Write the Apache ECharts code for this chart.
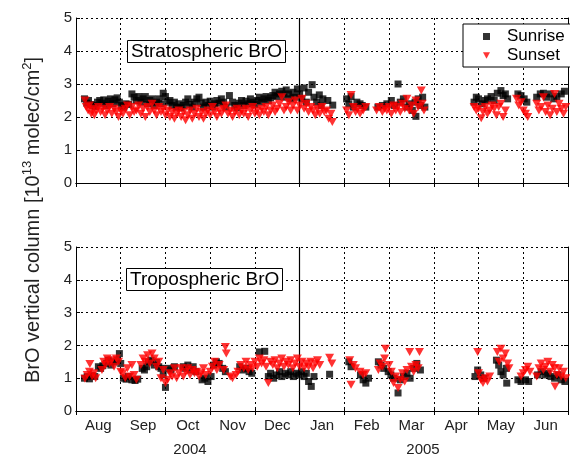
<!DOCTYPE html>
<html>
<head>
<meta charset="utf-8">
<script src="https://cdn.jsdelivr.net/npm/echarts@6/dist/echarts.min.js"></script>
<style>html,body{margin:0;padding:0;background:#fff;}#c{width:570px;height:457px;}</style>
</head>
<body>
<div id="c"></div>
<script>
// Month categories (x axis, Aug 2004 .. Jun 2005)
var months = ['Aug','Sep','Oct','Nov','Dec','Jan','Feb','Mar','Apr','May','Jun'];
var years = ['2004','2005'];
var yTicks = [0,1,2,3,4,5];
// x values are in month units: 0 = 1 Aug 2004, 5 = 1 Jan 2005, 11 = 1 Jul 2005
var stratSunrise = [[0.19,2.55],[0.24,2.42],[0.28,2.5],[0.33,2.38],[0.38,2.35],[0.43,2.32],[0.48,2.45],[0.53,2.5],[0.58,2.42],[0.62,2.52],[0.67,2.35],[0.72,2.48],[0.77,2.55],[0.82,2.4],[0.87,2.52],[0.92,2.58],[0.97,2.45],[1.02,2.35],[1.07,2.3],[1.12,2.4],[1.18,2.38],[1.25,2.7],[1.3,2.6],[1.35,2.5],[1.4,2.62],[1.45,2.45],[1.5,2.55],[1.55,2.62],[1.6,2.4],[1.65,2.5],[1.7,2.55],[1.75,2.35],[1.8,2.45],[1.85,2.55],[1.9,2.4],[1.95,2.72],[2.0,2.62],[2.05,2.45],[2.1,2.5],[2.15,2.35],[2.2,2.45],[2.25,2.3],[2.3,2.4],[2.35,2.28],[2.4,2.35],[2.45,2.45],[2.5,2.55],[2.55,2.38],[2.6,2.3],[2.65,2.45],[2.7,2.55],[2.75,2.6],[2.8,2.42],[2.85,2.3],[2.9,2.45],[2.95,2.35],[3.0,2.48],[3.05,2.3],[3.1,2.4],[3.15,2.5],[3.2,2.42],[3.25,2.55],[3.3,2.45],[3.35,2.3],[3.43,2.65],[3.5,2.45],[3.55,2.35],[3.6,2.28],[3.65,2.42],[3.7,2.5],[3.75,2.35],[3.8,2.48],[3.85,2.4],[3.9,2.55],[3.95,2.45],[4.0,2.38],[4.05,2.5],[4.1,2.6],[4.15,2.45],[4.2,2.55],[4.25,2.62],[4.3,2.5],[4.35,2.58],[4.4,2.65],[4.45,2.75],[4.5,2.62],[4.55,2.7],[4.6,2.78],[4.65,2.6],[4.7,2.82],[4.75,2.7],[4.8,2.55],[4.85,2.75],[4.9,2.6],[4.95,2.85],[5.0,2.7],[5.05,2.55],[5.1,2.88],[5.15,2.45],[5.2,2.75],[5.28,2.98],[5.32,2.6],[5.38,2.45],[5.44,2.67],[5.48,2.35],[5.52,2.55],[5.63,2.5],[5.74,2.36],
  [6.05,2.55],[6.1,2.4],[6.15,2.62],[6.2,2.3],[6.28,2.45],[6.35,2.4],[6.4,2.35],[6.48,2.3],
  [6.75,2.3],[6.85,2.35],[6.95,2.4],[7.05,2.5],[7.12,2.35],[7.2,3.0],[7.25,2.45],[7.32,2.55],[7.4,2.3],[7.45,2.4],[7.52,2.2],[7.58,2.45],[7.6,2.02],[7.65,2.55],[7.7,2.35],[7.75,2.6],[7.8,2.3],
  [8.9,2.45],[8.95,2.6],[9.0,2.55],[9.08,2.4],[9.15,2.5],[9.2,2.55],[9.28,2.62],[9.35,2.5],[9.42,2.72],[9.5,2.8],[9.55,2.65],[9.6,2.7],[9.65,2.55],
  [9.88,2.7],[9.95,2.65],[10.02,2.55],[10.08,2.45],
  [10.3,2.6],[10.38,2.7],[10.45,2.72],[10.52,2.6],[10.6,2.7],[10.68,2.55],[10.75,2.62],[10.85,2.7],[10.92,2.78]];
var stratSunset = [[0.2,2.5],[0.23,2.3],[0.27,2.2],[0.3,2.35],[0.34,2.1],[0.37,2.25],[0.41,2.05],[0.45,2.2],[0.5,2.3],[0.55,2.15],[0.6,2.25],[0.65,2.05],[0.7,2.2],[0.75,2.3],[0.8,2.1],[0.85,2.25],[0.9,2.15],[0.95,2.0],[1.0,2.2],[1.05,2.1],[1.1,2.25],[1.15,2.35],[1.2,2.05],[1.25,2.3],[1.3,2.15],[1.35,2.2],[1.4,2.35],[1.45,2.1],[1.5,2.25],[1.55,2.0],[1.6,2.3],[1.65,2.15],[1.7,2.4],[1.75,2.2],[1.8,2.05],[1.85,2.3],[1.9,2.15],[1.95,2.25],[2.0,2.05],[2.05,2.2],[2.1,2.0],[2.15,2.15],[2.2,1.95],[2.25,2.1],[2.3,2.2],[2.35,2.0],[2.4,2.15],[2.45,1.9],[2.5,2.05],[2.55,2.2],[2.6,1.95],[2.65,2.1],[2.7,2.25],[2.75,2.0],[2.8,2.15],[2.85,1.95],[2.9,2.1],[2.95,2.2],[3.0,2.05],[3.05,2.3],[3.1,2.15],[3.15,2.0],[3.2,2.2],[3.25,2.1],[3.3,2.25],[3.35,2.35],[3.4,2.1],[3.45,2.2],[3.5,2.0],[3.55,2.15],[3.6,2.25],[3.65,2.05],[3.7,2.2],[3.75,2.1],[3.8,2.25],[3.85,2.0],[3.9,2.2],[3.95,2.3],[4.0,2.1],[4.05,2.2],[4.1,2.05],[4.15,2.25],[4.2,2.15],[4.25,2.3],[4.3,2.05],[4.35,2.2],[4.4,2.35],[4.45,2.15],[4.5,2.25],[4.55,2.4],[4.6,2.6],[4.65,2.2],[4.7,2.3],[4.75,2.45],[4.8,2.2],[4.85,2.35],[4.9,2.5],[4.95,2.2],[5.0,2.35],[5.05,2.55],[5.1,2.25],[5.15,2.4],[5.2,2.15],[5.25,2.3],[5.3,2.2],[5.35,2.05],[5.4,2.25],[5.45,2.1],[5.5,2.3],[5.55,2.15],[5.6,2.2],[5.65,1.95],[5.7,2.1],[5.73,1.85],
  [6.05,2.2],[6.1,2.05],[6.15,2.67],[6.2,2.3],[6.25,2.15],[6.3,2.25],[6.35,2.1],[6.42,2.2],[6.48,2.3],
  [6.72,2.2],[6.78,2.3],[6.85,2.15],[6.9,2.25],[6.95,2.2],[7.0,2.3],[7.05,2.1],[7.1,2.35],[7.15,2.2],[7.2,2.3],[7.25,2.15],[7.3,2.4],[7.35,2.25],[7.4,2.55],[7.45,2.2],[7.5,2.35],[7.55,2.1],[7.6,2.5],[7.65,2.3],[7.72,2.8],[7.74,2.4],[7.78,2.2],
  [8.9,2.3],[8.95,2.2],[9.0,2.25],[9.06,1.96],[9.1,2.15],[9.15,2.3],[9.2,2.1],[9.25,2.2],[9.3,2.35],[9.35,2.25],[9.4,2.05],[9.45,2.3],[9.5,2.4],[9.55,2.0],[9.6,2.2],
  [9.85,2.55],[9.9,2.35],[9.95,2.45],[10.0,2.2],[10.05,2.1],[10.1,2.0],
  [10.3,2.4],[10.35,2.2],[10.4,2.3],[10.45,2.6],[10.5,2.15],[10.55,2.35],[10.6,2.05],[10.65,2.25],[10.7,2.7],[10.75,2.15],[10.8,2.4],[10.85,2.25],[10.9,2.1],[10.95,2.3]];
var tropSunrise = [[0.19,1.0],[0.25,1.05],[0.3,0.98],[0.36,1.08],[0.42,1.05],[0.5,1.35],[0.55,1.3],[0.6,1.38],[0.68,1.45],[0.72,1.55],[0.78,1.4],[0.84,1.5],[0.92,1.55],[0.97,1.75],[1.0,1.45],[1.06,1.0],[1.12,0.97],[1.17,1.05],[1.25,0.95],[1.32,0.93],[1.38,0.97],[1.48,1.3],[1.53,1.25],[1.58,1.35],[1.62,1.5],[1.68,1.55],[1.75,1.4],[1.8,1.48],[1.85,1.35],[1.9,1.3],[1.95,1.1],[2.0,0.72],[2.05,1.3],[2.12,1.25],[2.2,1.35],[2.4,1.35],[2.45,1.3],[2.5,1.4],[2.56,1.25],[2.62,1.35],[2.68,1.2],[2.82,0.95],[2.88,1.0],[2.95,0.9],[3.02,1.05],[3.08,1.4],[3.14,1.5],[3.2,1.45],[3.28,1.3],[3.34,1.2],[3.66,1.35],[3.72,1.25],[3.8,1.3],[3.87,1.2],[3.93,1.15],[4.1,1.8],[4.22,1.82],[4.3,1.05],[4.35,1.15],[4.42,1.0],[4.48,1.1],[4.55,1.2],[4.6,1.05],[4.68,1.15],[4.75,1.1],[4.8,1.2],[4.86,1.05],[4.92,1.15],[4.98,1.1],[5.04,1.2],[5.1,1.05],[5.15,1.15],[5.2,0.9],[5.26,0.75],[5.32,1.05],[5.67,1.12],[6.1,1.5],[6.15,1.35],[6.36,1.1],[6.42,0.95],[6.48,0.85],[6.54,1.0],[6.76,1.5],[6.82,1.4],[6.88,1.3],[6.98,1.2],[7.04,1.1],[7.1,1.0],[7.2,0.55],[7.25,0.95],[7.32,1.05],[7.4,1.15],[7.47,1.0],[7.55,1.3],[7.62,1.45],[7.7,1.25],[8.92,1.05],[8.98,1.25],[9.05,1.1],[9.12,1.0],[9.4,1.55],[9.45,1.4],[9.5,1.2],[9.55,1.1],[9.62,1.3],[9.63,0.85],[9.88,0.95],[9.95,0.9],[10.05,0.95],[10.12,0.9],[10.32,1.1],[10.4,1.2],[10.48,1.1],[10.55,1.15],[10.62,1.05],[10.7,1.0],[10.78,1.1],[10.85,0.95],[10.93,0.9]];
var tropSunset = [[0.2,0.98],[0.25,1.1],[0.3,1.2],[0.31,1.43],[0.36,1.05],[0.4,1.15],[0.44,1.0],[0.58,1.25],[0.62,1.5],[0.66,1.4],[0.7,1.6],[0.75,1.45],[0.8,1.55],[0.85,1.35],[0.9,1.6],[0.95,1.5],[1.0,1.2],[1.05,1.15],[1.1,1.0],[1.15,1.3],[1.2,1.05],[1.25,1.4],[1.3,1.1],[1.35,0.95],[1.45,1.4],[1.5,1.6],[1.55,1.5],[1.6,1.7],[1.65,1.45],[1.7,1.75],[1.75,1.6],[1.8,1.35],[1.85,1.5],[1.9,1.0],[1.95,1.25],[2.0,0.85],[2.05,0.95],[2.1,1.15],[2.15,1.05],[2.2,1.3],[2.25,1.0],[2.3,1.15],[2.35,1.3],[2.4,1.05],[2.45,1.2],[2.5,1.3],[2.55,1.1],[2.6,1.25],[2.65,1.15],[2.7,1.2],[2.75,1.05],[2.8,1.15],[2.85,1.3],[2.9,1.1],[3.0,1.2],[3.05,1.35],[3.1,1.5],[3.15,1.25],[3.2,1.4],[3.3,1.25],[3.34,1.95],[3.36,1.75],[3.45,1.05],[3.5,1.0],[3.58,1.1],[3.62,1.2],[3.68,1.4],[3.75,1.3],[3.8,1.5],[3.85,1.25],[3.9,1.4],[3.95,1.3],[4.0,1.5],[4.05,1.35],[4.1,1.6],[4.15,1.45],[4.2,1.55],[4.25,1.35],[4.3,0.85],[4.35,1.5],[4.4,1.4],[4.45,1.55],[4.5,1.3],[4.55,1.45],[4.6,1.6],[4.65,1.35],[4.7,1.5],[4.75,1.4],[4.8,1.55],[4.85,1.3],[4.9,1.45],[4.95,1.6],[5.0,1.35],[5.05,1.5],[5.1,1.3],[5.15,1.45],[5.2,1.35],[5.25,1.5],[5.3,1.3],[5.35,1.45],[5.4,1.55],[5.45,1.4],[5.67,1.62],[5.72,1.45],[6.12,1.55],[6.15,0.8],[6.2,1.4],[6.25,1.3],[6.35,1.2],[6.42,1.1],[6.48,1.15],[6.76,1.25],[6.8,1.45],[6.85,1.35],[6.9,1.6],[6.92,1.9],[7.0,1.4],[7.05,1.2],[7.1,0.85],[7.15,1.05],[7.2,0.7],[7.25,0.95],[7.3,1.15],[7.35,0.9],[7.4,1.25],[7.46,1.8],[7.5,1.35],[7.55,1.2],[7.6,1.4],[7.65,1.3],[7.68,1.8],[8.98,1.8],[9.0,1.15],[9.05,0.95],[9.1,0.85],[9.15,1.0],[9.2,0.9],[9.25,1.05],[9.42,1.8],[9.46,1.5],[9.5,1.9],[9.55,1.6],[9.6,1.75],[9.65,1.45],[9.68,1.3],[9.95,1.05],[10.0,1.15],[10.05,1.25],[10.1,1.35],[10.15,1.2],[10.3,1.05],[10.35,1.3],[10.4,1.45],[10.45,1.25],[10.5,1.35],[10.55,1.5],[10.6,1.2],[10.65,1.4],[10.7,1.3],[10.71,0.75],[10.75,1.1],[10.8,1.3],[10.85,1.05],[10.9,1.2],[10.95,1.0]];
var panelTitles = ['Stratospheric BrO','Tropospheric BrO'];
var seriesNames = ['Sunrise','Sunset'];
var janBoundary = 5;

var FONT = 'Liberation Sans, Arial, Helvetica, sans-serif';
var triDown = 'path://M0,0 L10,0 L5,9 Z';
var dotted = {color:'#000', width:1, type:[2,3]};

function catAxis(gridIndex, position, showLabels){
  return {
    type:'category', gridIndex:gridIndex, position:position, data:months,
    boundaryGap:true,
    axisLine:{show:true, lineStyle:{color:'#000', width:1}},
    axisTick:{show:true, inside:true, length:4, lineStyle:{color:'#000'}},
    axisLabel:{show:showLabels, color:'#222', fontFamily:FONT, fontSize:15, margin:7},
    splitLine:{show:position==='bottom', lineStyle:dotted},
    z:3
  };
}
function valX(gridIndex){
  return {type:'value', gridIndex:gridIndex, min:0, max:months.length, show:false};
}
function valY(gridIndex, position){
  var left = position==='left';
  return {
    type:'value', gridIndex:gridIndex, position:position, min:yTicks[0], max:yTicks[yTicks.length-1], interval:1,
    axisLine:{show:true, lineStyle:{color:'#000', width:1}},
    axisTick:{show:true, inside:true, length:4, lineStyle:{color:'#000'}},
    axisLabel:{show:left, color:'#222', fontFamily:FONT, fontSize:15, margin:4},
    splitLine:{show:left, lineStyle:dotted},
    z:3
  };
}
function sunriseSeries(xi, yi, data){
  return {name:seriesNames[0], type:'scatter', xAxisIndex:xi, yAxisIndex:yi, data:data,
    symbol:'rect', symbolSize:7, itemStyle:{color:'#000'}, z:4,
    markLine:{silent:true, symbol:['none','none'], label:{show:false},
      lineStyle:{color:'#000', type:'solid', width:1.2}, data:[{xAxis:janBoundary}]}};
}
function sunsetSeries(xi, yi, data){
  return {name:seriesNames[1], type:'scatter', xAxisIndex:xi, yAxisIndex:yi, data:data,
    symbol:triDown, symbolSize:[9,8], itemStyle:{color:'#ff0000'}, z:5};
}
function boxTitle(text, left, top){
  return {text:text, left:left, top:top, padding:[2,4,2,4],
    borderColor:'#000', borderWidth:1, backgroundColor:'#fff',
    textStyle:{fontFamily:FONT, fontSize:19, fontWeight:'normal', color:'#000'}};
}

var chart = echarts.init(document.getElementById('c'), null, {renderer:'canvas'});
chart.setOption({
  animation:false,
  backgroundColor:'#fff',
  title:[boxTitle(panelTitles[0],127,40), boxTitle(panelTitles[1],126,268)],
  legend:{
    data:[{name:seriesNames[0], icon:'rect'},{name:seriesNames[1], icon:triDown}],
    orient:'vertical', left:463, top:24,
    backgroundColor:'#fff', borderColor:'#000', borderWidth:1,
    padding:[4,7,3,20], itemGap:2, itemWidth:7, itemHeight:7,
    textStyle:{fontFamily:FONT, fontSize:17, color:'#000', padding:[0,0,0,12]},
    z:10
  },
  grid:[
    {left:76, top:18, width:492, height:165},
    {left:76, top:247, width:492, height:164}
  ],
  xAxis:[catAxis(0,'bottom',false), catAxis(0,'top',false), valX(0),
         catAxis(1,'bottom',true), catAxis(1,'top',false), valX(1)],
  yAxis:[valY(0,'left'), valY(0,'right'), valY(1,'left'), valY(1,'right')],
  series:[
    sunriseSeries(2,0,stratSunrise), sunsetSeries(2,0,stratSunset),
    sunriseSeries(5,2,tropSunrise), sunsetSeries(5,2,tropSunset)
  ],
  graphic:[
    {type:'text', x:190, y:450, style:{text:years[0], fontFamily:FONT, fontSize:15, fill:'#222', align:'center', verticalAlign:'middle'}},
    {type:'text', x:423, y:450, style:{text:years[1], fontFamily:FONT, fontSize:15, fill:'#222', align:'center', verticalAlign:'middle'}},
    {type:'text', x:33, y:220, rotation:Math.PI/2,
      style:{text:'{a|BrO vertical column [10}{s|13}{a| molec/cm}{s|2}{a|]}', align:'center', verticalAlign:'middle',
        rich:{a:{fontFamily:FONT, fontSize:20, fill:'#222', lineHeight:25},
              s:{fontFamily:FONT, fontSize:13, fill:'#222', verticalAlign:'top', lineHeight:25}}}}
  ]
});
</script>
</body>
</html>
